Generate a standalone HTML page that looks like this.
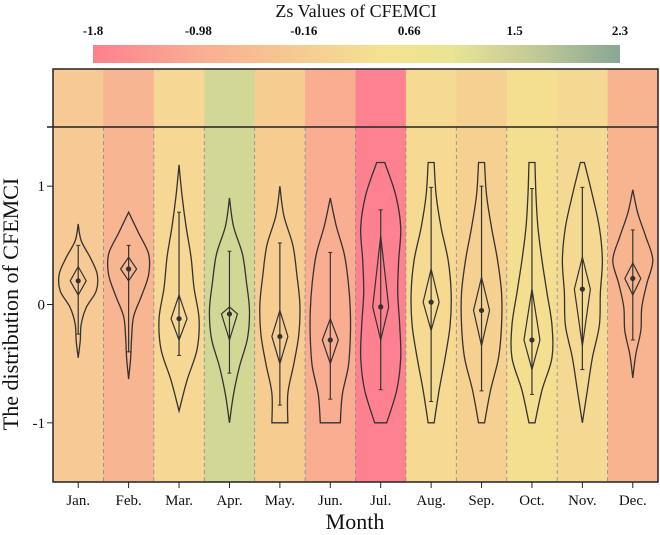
<!DOCTYPE html>
<html><head><meta charset="utf-8"><style>
body{margin:0;background:#fff}
svg{display:block;font-family:"Liberation Serif",serif}
</style></head><body>
<svg id="chart" width="660" height="535" viewBox="0 0 660 535" xmlns="http://www.w3.org/2000/svg">
<defs><linearGradient id="cb" x1="0" x2="1" y1="0" y2="0">
<stop offset="0" stop-color="#fe8090"/><stop offset="0.2" stop-color="#f9ad91"/><stop offset="0.4" stop-color="#f6cc91"/><stop offset="0.55" stop-color="#f4e291"/><stop offset="0.68" stop-color="#eae493"/><stop offset="0.85" stop-color="#bfc796"/><stop offset="1" stop-color="#86a894"/></linearGradient></defs>
<text x="356" y="17" font-size="18" text-anchor="middle" fill="#111">Zs Values of CFEMCI</text>
<g id="cbticks" font-size="13" font-weight="bold" text-anchor="middle" fill="#111"></g>
<rect x="93" y="45" width="527" height="18" fill="url(#cb)"/>
<g id="bands"></g>
<g id="violins"></g>
<rect x="53" y="69" width="605" height="413" fill="none" stroke="#222" stroke-width="1.5"/>
<line x1="47" x2="658" y1="127" y2="127" stroke="#222" stroke-width="1.5"/>
<g id="axes" font-size="15" fill="#111"></g>
<text x="355" y="529" font-size="22" text-anchor="middle" fill="#111">Month</text>
<text transform="translate(18,304) rotate(-90)" font-size="22" text-anchor="middle" fill="#111">The distribution of CFEMCI</text>
</svg>
<script>
const months=["Jan.","Feb.","Mar.","Apr.","May.","Jun.","Jul.","Aug.","Sep.","Oct.","Nov.","Dec."];
const bandColors=["#f7c994","#f8b592","#f6d794","#d2d795","#f6cc91","#f9ad91","#fe8190","#f6da92","#f6d090","#f4de90","#f5d992","#f8b48e"];
const cbTicks=["-1.8","-0.98","-0.16","0.66","1.5","2.3"];
const yTicks=[1,0,-1];
const vMax=[0.68,0.78,1.18,0.9,1.0,0.9,1.2,1.2,1.2,1.2,1.2,0.97];
const vMin=[-0.45,-0.63,-0.9,-1.0,-1.0,-1.0,-1.0,-1.0,-1.0,-1.0,-1.0,-0.62];
const vWidths=[
[0,3,12,19,18,8,3,2,0],[0,10,20,20,13,5,3,2,0],[0,3,7,12,15,20,18,8,0],[0,4,13,17,20,18,10,4,0],
[0,4,13,17,20,19,14,8,8],[0,6,14,18,20,20,18,12,10],[4,15,20,18,17,19,20,16,6],[3,5,10,17,20,19,14,8,3],
[3,5,10,16,20,20,17,9,3],[3,4,6,10,15,20,20,10,3],[2,10,17,20,18,17,10,5,0],[0,5,13,20,14,9,8,3,0]];
const means=[0.2,0.3,-0.12,-0.08,-0.27,-0.3,-0.02,0.02,-0.05,-0.3,0.13,0.22];
const dTop=[0.32,0.4,0.08,-0.02,-0.05,-0.12,0.58,0.3,0.23,0.13,0.4,0.35];
const dBot=[0.08,0.2,-0.3,-0.3,-0.5,-0.5,-0.3,-0.22,-0.35,-0.55,-0.35,0.08];
const wTop=[0.5,0.5,0.78,0.45,0.52,0.44,0.8,0.99,1.0,0.98,0.99,0.63];
const wBot=[-0.25,-0.4,-0.43,-0.58,-0.85,-0.8,-0.72,-0.82,-0.73,-0.76,-0.55,-0.3];

const NS="http://www.w3.org/2000/svg";
const x0=53,x1=658,y0=482,y1=127,bw=(x1-x0)/12;
const xs=i=>x0+bw*(i+0.5);
const ys=v=>y0-(v+1.5)/3*(y0-y1);
function mk(tag,attrs,parent){const e=document.createElementNS(NS,tag);for(const k in attrs)e.setAttribute(k,attrs[k]);parent.appendChild(e);return e;}
const cbG=document.getElementById('cbticks');
cbTicks.forEach((t,i)=>{const e=mk('text',{x:93+i*527/(cbTicks.length-1),y:35},cbG);e.textContent=t;

});
const bands=document.getElementById('bands');
bandColors.forEach((c,i)=>{const r=mk('rect',{x:x0+bw*i,y:69,width:bw+0.5,height:413,fill:c},bands);


if(i>0){const l=mk('line',{x1:x0+bw*i,x2:x0+bw*i,y1:127,y2:482,stroke:'#8a8a9a','stroke-dasharray':'4,3','stroke-width':0.8},bands);

}});
const vg=document.getElementById('violins');
function spline(pts){let d='M'+pts[0][0]+','+pts[0][1];
for(let i=0;i<pts.length-1;i++){const p0=pts[Math.max(0,i-1)],p1=pts[i],p2=pts[i+1],p3=pts[Math.min(pts.length-1,i+2)];
const c1=[p1[0]+(p2[0]-p0[0])/6,p1[1]+(p2[1]-p0[1])/6],c2=[p2[0]-(p3[0]-p1[0])/6,p2[1]-(p3[1]-p1[1])/6];
d+=' C'+c1[0]+','+c1[1]+' '+c2[0]+','+c2[1]+' '+p2[0]+','+p2[1];}return d;}
months.forEach((m,i)=>{const cx=xs(i),w=vWidths[i],n=w.length;
const pts=w.map((h,k)=>[cx+h,ys(vMax[i]-(vMax[i]-vMin[i])*k/(n-1))]);
const left=w.map((h,k)=>[cx-h,ys(vMax[i]-(vMax[i]-vMin[i])*k/(n-1))]).reverse();
const d=spline(pts)+' L'+left[0][0]+','+left[0][1]+' '+spline(left).slice(1).replace(/^[^C]*/,'')+' Z';
const g=mk('g',{},vg);


mk('path',{d:d,fill:'none',stroke:'#333','stroke-width':1.3},g);
mk('line',{x1:cx,x2:cx,y1:ys(wTop[i]),y2:ys(wBot[i]),stroke:'#333','stroke-width':1.2},g);
mk('line',{x1:cx-2,x2:cx+2,y1:ys(wTop[i]),y2:ys(wTop[i]),stroke:'#333'},g);
mk('line',{x1:cx-2,x2:cx+2,y1:ys(wBot[i]),y2:ys(wBot[i]),stroke:'#333'},g);
const ym=ys(means[i]);
mk('path',{d:`M${cx},${ys(dTop[i])} L${cx+8},${ym} L${cx},${ys(dBot[i])} L${cx-8},${ym} Z`,fill:'none',stroke:'#333','stroke-width':1.2},g);
mk('circle',{cx:cx,cy:ym,r:2.6,fill:'#333'},g);});
const ax=document.getElementById('axes');
months.forEach((m,i)=>{mk('line',{x1:xs(i),x2:xs(i),y1:482,y2:488,stroke:'#222'},ax);
const t=mk('text',{x:xs(i),y:505,'text-anchor':'middle'},ax);t.textContent=m;

});
yTicks.forEach(v=>{mk('line',{x1:47,x2:53,y1:ys(v),y2:ys(v),stroke:'#222'},ax);
const t=mk('text',{x:45,y:ys(v)+5,'text-anchor':'end'},ax);t.textContent=v;

});
</script>
</body></html>
